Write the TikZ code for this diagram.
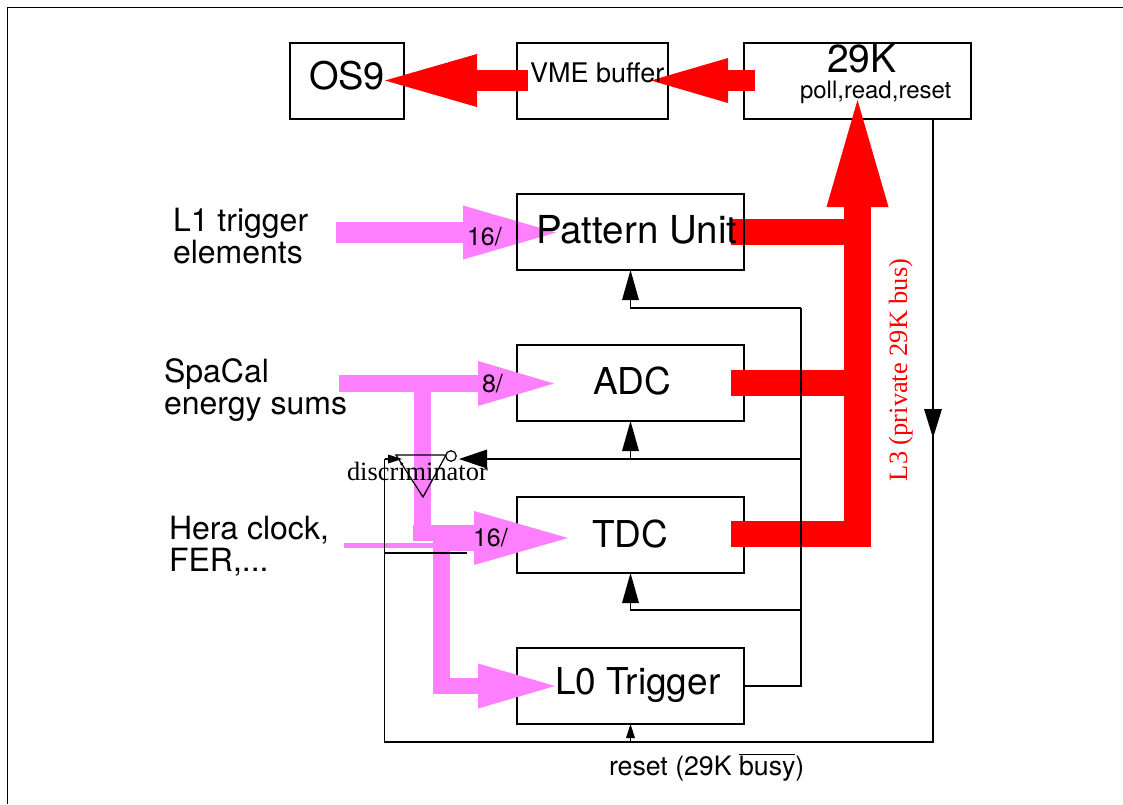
\documentclass[tikz,border=0pt]{standalone}
\usepackage{fontspec}
\usetikzlibrary{arrows.meta}
\setmainfont{TeX Gyre Heros}
\newfontfamily\tmfam{Liberation Serif}
\newcommand\pxf[1]{\fontsize{#1}{#1}\selectfont}
\definecolor{fatred}{HTML}{FF0000}
\definecolor{fatpink}{HTML}{FF80FF}
\tikzset{
  x=1pt,y=-1pt,
  wire/.style={draw=black,line width=1.25pt},
  unit/.style={draw=black,line width=1.25pt,inner sep=0pt,outer sep=0pt},
  lbl/.style={anchor=base west,inner sep=0pt,outer sep=0pt,text=black},
  redline/.style={draw=fatred,line width=#1},
  pinkline/.style={draw=fatpink,line width=#1},
  head/.style n args={2}{-{Triangle[length=#1,width=#2,line width=0pt]}},
}
\begin{document}
\begin{tikzpicture}[line join=miter]
\useasboundingbox (0,0) rectangle (1123,804);
\fill[white] (0,0) rectangle (1123,804);
% frame
\coordinate (frTR) at (1123,7.6);
\coordinate (frTL) at (7.4,7.6);
\coordinate (frBL) at (7.4,804);
\draw[wire] (frTR) -- (frTL) -- (frBL);
% boxes beneath the fat arrows
\node[unit,minimum width=114pt,minimum height=76pt] (os9) at (347,81) {};
\node[unit,minimum width=151pt,minimum height=76pt] (vme) at (592.5,81) {};
\node[unit,minimum width=227pt,minimum height=76pt] (k29) at (857.5,81) {};
\node[unit,minimum width=227pt,minimum height=76pt] (adc) at (630.5,383) {};
\node[unit,minimum width=227pt,minimum height=76pt] (tdc) at (630.5,535) {};
\node[unit,minimum width=227pt,minimum height=76pt] (l0) at (630.5,686) {};
% anchors of the fat arrows
\coordinate (rA0) at (528,80.5);  \coordinate (rA1) at (385,80.5);
\coordinate (rB0) at (755,80.5);  \coordinate (rB1) at (651,80.5);
\coordinate (rC0) at (857.5,547); \coordinate (rC1) at (857.5,100);
\coordinate (rP0) at (731,232);   \coordinate (rP1) at (845,232);
\coordinate (rD0) at (731,383);   \coordinate (rD1) at (845,383);
\coordinate (rT0) at (731,534);   \coordinate (rT1) at (845,534);
\coordinate (pL0) at (336,232.5); \coordinate (pL1) at (556,232.5);
\coordinate (pS0) at (339,383.5); \coordinate (pS1) at (554,383.5);
\coordinate (pV0) at (422.5,392); \coordinate (pV1) at (422.5,533);
\coordinate (pH0) at (413,533);   \coordinate (pH1) at (440,533);
\coordinate (pT0) at (433,538);   \coordinate (pT1) at (568,538);
\coordinate (pW0) at (441.5,545); \coordinate (pW1) at (441.5,686);
\coordinate (pZ0) at (433,686);   \coordinate (pZ1) at (555,686);
\coordinate (pF0) at (344,545.5); \coordinate (pF1) at (433,545.5);
% magenta
\draw[pinkline=21pt,head={93pt}{54pt}] (pL0) -- (pL1);
\draw[pinkline=17pt,head={76pt}{45pt}] (pS0) -- (pS1);
\draw[pinkline=17pt] (pV0) -- (pV1);
\draw[pinkline=16pt] (pH0) -- (pH1);
\draw[pinkline=26pt,head={94pt}{54pt}] (pT0) -- (pT1);
\draw[pinkline=16.5pt] (pW0) -- (pW1);
\draw[pinkline=16pt,head={77pt}{45pt}] (pZ0) -- (pZ1);
\draw[pinkline=5pt] (pF0) -- (pF1);
% red
\draw[redline=21pt,head={92pt}{53pt}] (rA0) -- (rA1);
\draw[redline=21pt,head={77pt}{45pt}] (rB0) -- (rB1);
\draw[redline=27pt,head={107pt}{62pt}] (rC0) -- (rC1);
\draw[redline=26pt] (rP0) -- (rP1);
\draw[redline=26pt] (rD0) -- (rD1);
\draw[redline=26pt] (rT0) -- (rT1);
% pattern unit sits on top of the red bar
\node[unit,minimum width=227pt,minimum height=76pt] (pu) at (630.5,232) {};
% control wires
\coordinate (busT) at (801,308);
\coordinate (busA) at (801,459);
\coordinate (busC) at (801,610);
\coordinate (busL) at (801,686);
\draw[wire] (l0.east) -- (busL) -- (busT);
\draw[wire,head={30pt}{17pt}] (busT) -| (pu.south);
\draw[wire,head={30pt}{17pt}] (busC) -| (tdc.south);
\draw[wire,head={30pt}{17pt}] (busA) -| (adc.south);
\coordinate (bubIn) at (459,459);
\draw[wire,head={28pt}{19pt}] (busA) -- (bubIn);
% discriminator
\coordinate (dA) at (396,455);
\coordinate (dB) at (446,455);
\coordinate (dC) at (423,497);
\draw[wire] (dA) -- (dB) -- (dC) -- cycle;
\node[circle,draw=black,line width=1.25pt,fill=white,minimum size=10.5pt,inner sep=0pt] (bub) at (451,456) {};
% reset line
\coordinate (rsR) at (933,119);
\coordinate (rsM) at (933,438);
\coordinate (rsB) at (933,742);
\coordinate (rsL) at (384.5,742);
\coordinate (rsU) at (384.5,459);
\coordinate (rsT) at (402,459);
\coordinate (rsN) at (384.5,553);
\coordinate (rsE) at (467,553);
\coordinate (rsC) at (630.5,742);
\draw[wire] (rsR) -- (rsB) -- (rsL) -- (rsU);
\draw[wire,head={14pt}{9pt}] (rsU) -- (rsT);
\draw[wire,head={29pt}{18pt}] (rsR) -- (rsM);
\draw[wire] (rsN) -- (rsE);
\draw[wire,head={14pt}{9pt}] (rsC) -- (l0.south);
% texts
\node[lbl] (tOS) at (309,89) {\pxf{38}OS9};
\node[lbl] (tVME) at (530,82) {\pxf{27}VME buffer};
\node[lbl] (t29) at (827,72) {\pxf{39}29K};
\node[lbl] (tPoll) at (800,98) {\pxf{24}poll,read,reset};
\node[lbl] (tL1a) at (173,231) {\pxf{32}L1 trigger};
\node[lbl] (tL1b) at (173,263) {\pxf{32}elements};
\node[lbl] (tSa) at (164,382) {\pxf{32}SpaCal};
\node[lbl] (tSb) at (164,414) {\pxf{32}energy sums};
\node[lbl] (tHa) at (169,539) {\pxf{32}Hera clock,};
\node[lbl] (tHb) at (169,571) {\pxf{32}FER,...};
\node[lbl] (tPU) at (536,243) {\pxf{38.5}Pattern Unit};
\node[lbl] (tADC) at (593,394) {\pxf{37}ADC};
\node[lbl] (tTDC) at (592,547) {\pxf{37}TDC};
\node[lbl] (tL0) at (555,694) {\pxf{37}L0 Trigger};
\node[lbl] (n16a) at (467,245) {\pxf{25}16/};
\node[lbl] (n8) at (482,392) {\pxf{25}8/};
\node[lbl] (n16b) at (473,546) {\pxf{25}16/};
\node[lbl] (tRes) at (609,775) {\pxf{26.7}reset (29K $\overline{\mbox{busy}}$)};
\node[lbl] (tDisc) at (347,480) {\tmfam\pxf{26.4}discriminator};
\node[lbl,rotate=90,text=fatred] (tL3) at (907,481) {\tmfam\pxf{26.4}L3 (private 29K bus)};
\end{tikzpicture}
\end{document}
